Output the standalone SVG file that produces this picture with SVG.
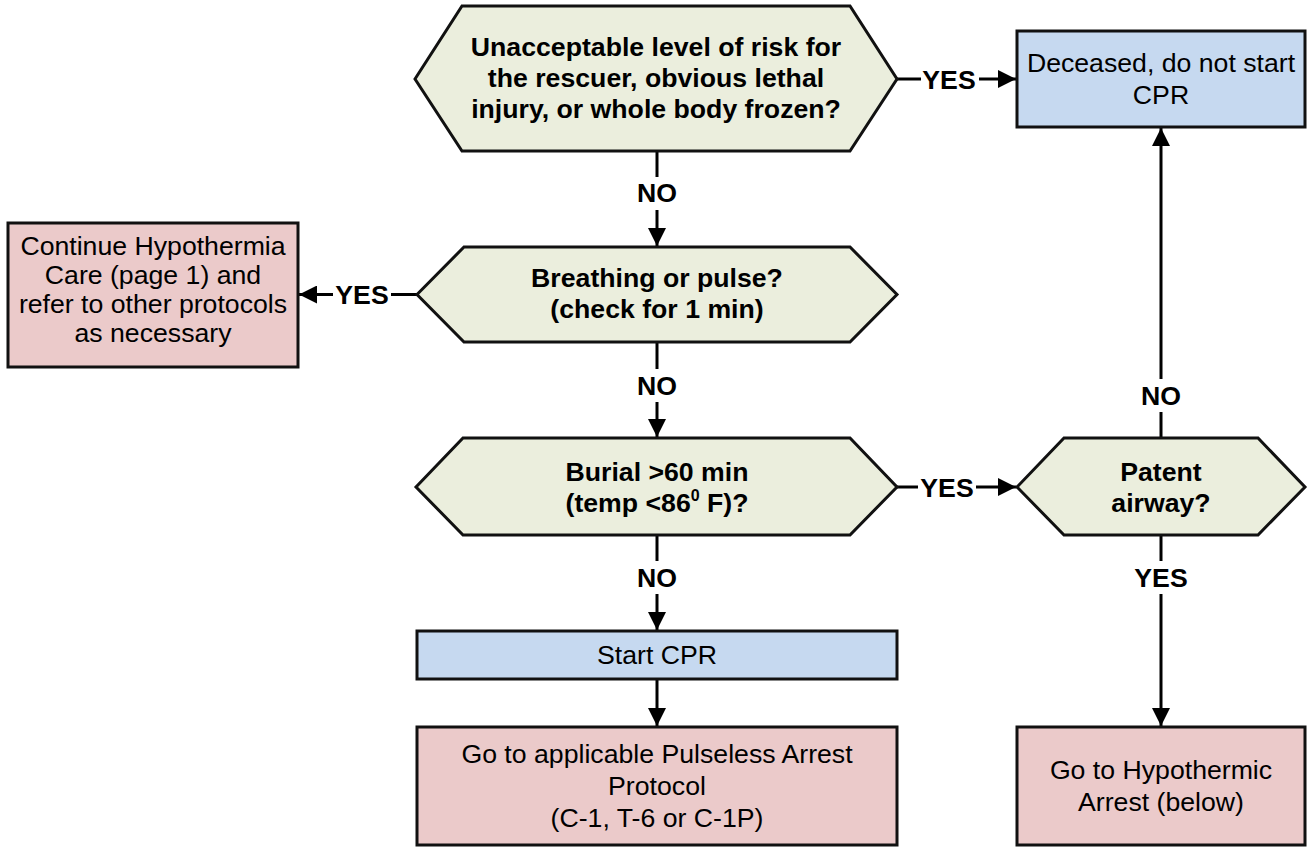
<svg xmlns="http://www.w3.org/2000/svg" width="1310" height="848" viewBox="0 0 1310 848">
<defs>
<marker id="arr" markerUnits="userSpaceOnUse" markerWidth="18" markerHeight="18" refX="18" refY="9" orient="auto">
<path d="M0,0 L18,9 L0,18 z" fill="#000"/>
</marker>
<style>
.hex{fill:#EBEEDD;stroke:#111;stroke-width:3;stroke-linejoin:miter}
.blue{fill:#C6D9F0;stroke:#111;stroke-width:3}
.pink{fill:#EBCACA;stroke:#111;stroke-width:3}
.b{font-family:"Liberation Sans",Arial,sans-serif;font-weight:bold;font-size:26.67px;fill:#000;text-anchor:middle}
.n{font-family:"Liberation Sans",Arial,sans-serif;font-size:26.67px;fill:#000;text-anchor:middle}
.c{fill:none;stroke:#000;stroke-width:3}
.lb{fill:#fff}
</style>
</defs>
<rect width="1310" height="848" fill="#fff"/>

<g id="connectors">
<path class="c" d="M657,151 V246" marker-end="url(#arr)"/>
<path class="c" d="M657,342 V437" marker-end="url(#arr)"/>
<path class="c" d="M657,535 V630" marker-end="url(#arr)"/>
<path class="c" d="M657,679 V726" marker-end="url(#arr)"/>
<path class="c" d="M897,79 H1016" marker-end="url(#arr)"/>
<path class="c" d="M417,294.5 H299" marker-end="url(#arr)"/>
<path class="c" d="M897,487 H1016" marker-end="url(#arr)"/>
<path class="c" d="M1161,438 V128" marker-end="url(#arr)"/>
<path class="c" d="M1161,535 V726" marker-end="url(#arr)"/>
<g id="labels">
<rect class="lb" x="635" y="177" width="44" height="33"/><text class="b" x="657" y="202">NO</text>
<rect class="lb" x="635" y="369" width="44" height="33"/><text class="b" x="657" y="394.5">NO</text>
<rect class="lb" x="635" y="561" width="44" height="33"/><text class="b" x="657" y="586.5">NO</text>
<rect class="lb" x="1139" y="379" width="44" height="33"/><text class="b" x="1161" y="404.5">NO</text>
<rect class="lb" x="1132" y="561" width="58" height="33"/><text class="b" x="1161" y="586.5">YES</text>
<rect class="lb" x="921" y="66" width="58" height="26"/><text class="b" x="949" y="88.5">YES</text>
<rect class="lb" x="333" y="281" width="58" height="26"/><text class="b" x="362" y="304">YES</text>
<rect class="lb" x="918" y="474" width="58" height="26"/><text class="b" x="947" y="496.5">YES</text>
</g>
</g>

<g id="q-risk">
<polygon class="hex" points="415,79 462,6 850,6 897,79 850,151 462,151"/>
<text class="b" x="656" y="56">Unacceptable level of risk for</text>
<text class="b" x="656" y="87">the rescuer, obvious lethal</text>
<text class="b" x="656" y="118">injury, or whole body frozen?</text>
</g>

<g id="deceased">
<rect class="blue" x="1017" y="31" width="288" height="96"/>
<text class="n" x="1161" y="72">Deceased, do not start</text>
<text class="n" x="1161" y="104">CPR</text>
</g>

<g id="q-breathing">
<polygon class="hex" points="417,294.5 464,247 850,247 897,294.5 850,342 464,342"/>
<text class="b" x="657" y="287">Breathing or pulse?</text>
<text class="b" x="657" y="318">(check for 1 min)</text>
</g>

<g id="continue-care">
<rect class="pink" x="8" y="223" width="290" height="144"/>
<text class="n" x="153" y="255">Continue Hypothermia</text>
<text class="n" x="153" y="284">Care (page 1) and</text>
<text class="n" x="153" y="313">refer to other protocols</text>
<text class="n" x="153" y="342">as necessary</text>
</g>

<g id="q-burial">
<polygon class="hex" points="416,487 463,438 850,438 897,487 850,535 463,535"/>
<text class="b" x="657" y="480.5">Burial &gt;60 min</text>
<text class="b" x="657" y="511.5">(temp &lt;86<tspan dy="-11" font-size="16">0</tspan><tspan dy="11"> F)?</tspan></text>
</g>

<g id="q-airway">
<polygon class="hex" points="1017,487 1064,438 1258,438 1305,487 1258,535 1064,535"/>
<text class="b" x="1161" y="480.5">Patent</text>
<text class="b" x="1161" y="511.5">airway?</text>
</g>

<g id="start-cpr">
<rect class="blue" x="417" y="631" width="480" height="48"/>
<text class="n" x="657" y="664">Start CPR</text>
</g>

<g id="pulseless">
<rect class="pink" x="417" y="727" width="480" height="118"/>
<text class="n" x="657" y="763">Go to applicable Pulseless Arrest</text>
<text class="n" x="657" y="795">Protocol</text>
<text class="n" x="657" y="827">(C-1, T-6 or C-1P)</text>
</g>

<g id="hypothermic">
<rect class="pink" x="1017" y="727" width="288" height="118"/>
<text class="n" x="1161" y="779">Go to Hypothermic</text>
<text class="n" x="1161" y="811">Arrest (below)</text>
</g>
</svg>
